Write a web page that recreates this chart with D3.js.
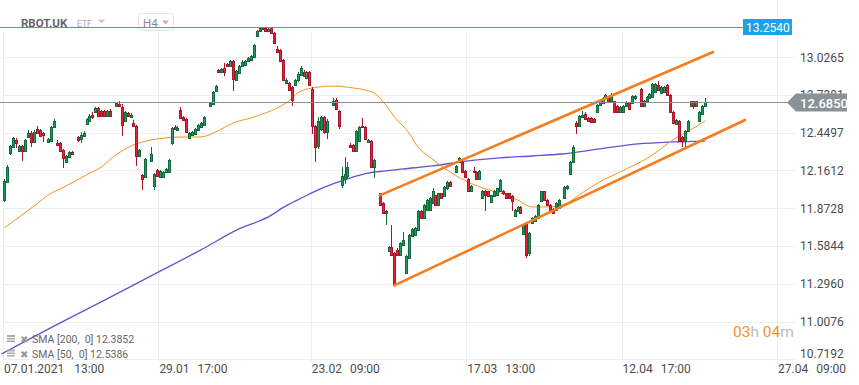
<!DOCTYPE html>
<html>
<head>
<meta charset="utf-8">
<script src="https://cdnjs.cloudflare.com/ajax/libs/d3/7.8.5/d3.min.js"></script>
<style>
  body { margin: 0; background: #fff; }
  svg { font-family: Roboto, "Noto Sans", sans-serif; display: block; }
  text { white-space: pre; }
</style>
</head>
<body>
<svg id="chart" width="859" height="385"></svg>
<script>
// H4 candles, [open, high, low, close]; null = empty slot
const candles = [
  [11.932,12.098,11.917,12.083],[12.075,12.204,12.068,12.189],[12.294,12.355,12.279,12.347],[12.340,12.415,12.332,12.408],[12.392,12.408,12.332,12.370], //0-4
  [12.309,12.355,12.302,12.347],[12.347,12.355,12.234,12.309],[12.309,12.400,12.302,12.392],[12.415,12.468,12.408,12.445],[12.445,12.460,12.340,12.377], //5-9
  [12.377,12.468,12.370,12.453],[12.476,12.498,12.438,12.445],[12.468,12.476,12.415,12.423],[12.445,12.453,12.377,12.430],null, //10-14
  [12.377,12.408,12.370,12.400],[12.385,12.498,12.377,12.491],[12.491,12.551,12.483,12.536],[12.370,12.392,12.347,12.355],[12.370,12.377,12.302,12.309], //15-19
  [12.317,12.325,12.181,12.257],[12.226,12.279,12.219,12.272],[12.264,12.309,12.257,12.302],[12.302,12.309,12.279,12.287],null, //20-24
  [12.415,12.423,12.377,12.392],[12.400,12.453,12.370,12.430],[12.423,12.460,12.415,12.445],[12.513,12.559,12.506,12.551],[12.536,12.589,12.528,12.574], //25-29
  [12.581,12.604,12.551,12.566],[12.604,12.642,12.596,12.634],[12.634,12.642,12.566,12.574],[12.611,12.619,12.566,12.574],[12.611,12.619,12.566,12.574], //30-34
  [12.574,12.619,12.566,12.611],[12.611,12.627,12.566,12.574],null,[12.649,12.679,12.642,12.672],[12.664,12.687,12.642,12.649], //35-39
  [12.642,12.664,12.423,12.506],[12.536,12.611,12.528,12.604],[12.596,12.604,12.566,12.574],[12.566,12.596,12.559,12.581],[12.521,12.543,12.491,12.498], //40-44
  [12.498,12.506,12.196,12.272],[12.272,12.325,12.264,12.317],[12.128,12.136,12.015,12.098],[12.113,12.257,12.106,12.249],null, //45-49
  [12.234,12.340,12.226,12.287],[12.045,12.143,12.015,12.136],[12.166,12.174,12.113,12.121],[12.113,12.166,12.106,12.158],[12.113,12.158,12.106,12.151], //50-54
  [12.151,12.181,12.143,12.174],[12.151,12.249,12.143,12.241],[12.370,12.491,12.355,12.483],[12.491,12.506,12.468,12.476],[12.468,12.498,12.460,12.483], //55-59
  [12.619,12.642,12.551,12.559],[12.566,12.574,12.536,12.543],[12.551,12.559,12.445,12.453],[12.408,12.453,12.400,12.445],[12.430,12.460,12.423,12.453], //60-64
  [12.438,12.483,12.430,12.476],[12.468,12.513,12.460,12.506],[12.491,12.528,12.483,12.521],[12.506,12.574,12.498,12.566],null, //65-69
  [12.649,12.679,12.642,12.672],[12.664,12.770,12.657,12.762],[12.770,12.815,12.762,12.808],[12.929,12.936,12.906,12.913],[12.913,12.944,12.906,12.936], //70-74
  [12.944,12.981,12.883,12.913],[12.974,12.981,12.951,12.959],[12.959,13.004,12.951,12.996],[12.996,13.004,12.770,12.861],[12.853,12.929,12.845,12.921], //75-79
  [12.906,12.966,12.898,12.959],[12.959,13.004,12.951,12.989],[12.966,13.004,12.959,12.996],[12.996,13.027,12.989,13.019],[13.004,13.042,12.996,13.034], //80-84
  [13.027,13.125,13.019,13.117],[13.185,13.231,13.178,13.223],[13.223,13.254,13.215,13.246],[13.238,13.254,13.230,13.250],[13.250,13.254,13.215,13.223], //85-89
  [13.223,13.246,13.215,13.238],[13.246,13.250,13.200,13.208],[13.208,13.215,13.125,13.132],[13.087,13.110,13.057,13.064],[13.080,13.087,12.989,12.996], //90-94
  [13.004,13.012,12.845,12.853],[12.830,12.868,12.823,12.853],[12.830,12.838,12.770,12.778],[12.800,12.808,12.649,12.702],[12.815,12.861,12.808,12.853], //95-99
  [12.853,12.913,12.838,12.898],[12.891,12.959,12.883,12.944],[12.913,12.929,12.876,12.883],[12.868,12.921,12.861,12.913],[12.913,12.921,12.808,12.815], //100-104
  [12.785,12.800,12.438,12.498],[12.498,12.506,12.226,12.340],[12.347,12.566,12.325,12.536],[12.476,12.574,12.460,12.566],[12.566,12.574,12.438,12.453], //105-109
  [12.453,12.551,12.400,12.536],null,[12.657,12.717,12.649,12.687],[12.702,12.710,12.619,12.627],[12.611,12.619,12.476,12.498], //110-114
  [12.053,12.189,12.030,12.121],[12.098,12.264,12.060,12.136],[12.121,12.226,12.098,12.189],[12.355,12.370,12.332,12.340],[12.355,12.362,12.302,12.309], //115-119
  [12.309,12.468,12.302,12.460],[12.385,12.498,12.377,12.491],[12.498,12.559,12.483,12.491],[12.491,12.498,12.392,12.400],[12.377,12.400,12.370,12.392], //120-124
  [12.385,12.392,12.181,12.189],[12.189,12.249,12.106,12.241],null,[11.985,11.992,11.887,11.894],[11.909,11.917,11.826,11.834], //125-129
  [11.834,11.856,11.743,11.849],[11.547,11.585,11.539,11.577],[11.577,11.743,11.509,11.517],[11.532,11.539,11.283,11.290],[11.554,11.570,11.509,11.517], //130-134
  [11.517,11.615,11.509,11.607],[11.592,11.690,11.585,11.630],[11.381,11.517,11.373,11.509],[11.494,11.675,11.486,11.668],[11.660,11.721,11.653,11.713], //135-139
  [11.668,11.728,11.660,11.721],[11.705,11.856,11.698,11.849],[11.849,11.856,11.788,11.796],[11.796,11.902,11.788,11.894],[11.856,11.939,11.849,11.932], //140-144
  [11.856,11.955,11.849,11.947],[11.909,12.023,11.902,12.007],[11.970,11.977,11.887,11.894],[11.894,11.992,11.887,11.985],[11.985,11.992,11.939,11.947], //145-149
  [11.962,12.045,11.955,12.038],[12.023,12.083,12.015,12.075],[12.075,12.083,12.038,12.045],null,[12.151,12.204,12.143,12.196], //150-154
  [12.226,12.264,12.219,12.257],[12.226,12.249,12.143,12.151],[12.158,12.166,12.106,12.113],[12.098,12.106,12.000,12.007],[12.007,12.053,12.000,12.045], //155-159
  [12.158,12.189,12.143,12.151],[12.151,12.158,12.090,12.098],[12.098,12.166,12.090,12.158],[11.947,12.015,11.939,12.007],[12.007,12.015,11.849,11.970], //160-164
  [12.000,12.007,11.955,11.962],[11.917,11.977,11.909,11.970],[11.962,12.015,11.955,12.007],[11.970,12.030,11.962,12.023],[12.007,12.098,12.000,12.090], //165-169
  [12.007,12.015,11.977,11.985],[11.985,11.992,11.939,11.947],[11.985,11.992,11.939,11.947],[11.962,11.970,11.849,11.924],[11.811,11.864,11.804,11.856], //170-174
  [11.849,11.887,11.841,11.879],[11.879,11.887,11.826,11.834],[11.675,11.751,11.668,11.743],[11.751,11.766,11.494,11.517],[11.532,11.690,11.509,11.683], //175-179
  [11.758,11.804,11.751,11.796],[11.773,11.819,11.766,11.811],[11.796,11.902,11.788,11.894],[11.924,12.007,11.917,12.000],[12.000,12.007,11.924,11.932], //180-184
  [11.932,11.939,11.887,11.894],[11.894,11.902,11.849,11.856],[11.864,11.872,11.826,11.834],[11.856,11.917,11.849,11.909],[11.872,11.939,11.864,11.932], //185-189
  null,[11.947,12.045,11.939,12.038],[12.023,12.053,12.015,12.045],[12.136,12.234,12.128,12.226],[12.226,12.355,12.219,12.340], //190-194
  [12.521,12.536,12.438,12.498],[12.498,12.581,12.491,12.574],[12.566,12.611,12.559,12.581],[12.589,12.604,12.543,12.551],[12.559,12.566,12.528,12.536], //195-199
  [12.559,12.566,12.521,12.528],[12.551,12.559,12.521,12.528],[12.604,12.664,12.596,12.657],[12.657,12.702,12.649,12.687],[12.679,12.725,12.672,12.717], //200-204
  [12.717,12.747,12.710,12.740],[12.725,12.732,12.679,12.687],[12.687,12.755,12.679,12.740],[12.687,12.694,12.596,12.604],[12.649,12.657,12.596,12.604], //205-209
  [12.604,12.649,12.596,12.642],[12.604,12.657,12.596,12.649],[12.649,12.687,12.642,12.679],[12.672,12.679,12.619,12.627],[12.679,12.740,12.672,12.732], //210-214
  [12.710,12.740,12.702,12.732],null,[12.785,12.793,12.642,12.649],[12.649,12.702,12.642,12.694],[12.694,12.732,12.687,12.725], //215-219
  [12.717,12.755,12.710,12.747],[12.725,12.830,12.717,12.823],[12.762,12.830,12.755,12.823],[12.815,12.845,12.770,12.778],[12.755,12.808,12.747,12.800], //220-224
  [12.762,12.808,12.755,12.800],[12.815,12.823,12.732,12.740],[12.740,12.747,12.596,12.604],[12.604,12.611,12.513,12.521],[12.513,12.551,12.506,12.543], //225-229
  [12.536,12.543,12.377,12.385],[12.415,12.423,12.340,12.385],[12.385,12.468,12.325,12.460],[12.460,12.543,12.453,12.536],[12.649,12.694,12.642,12.687], //230-234
  [12.687,12.694,12.627,12.649],[12.649,12.694,12.642,12.687],[12.536,12.611,12.528,12.604],[12.589,12.657,12.581,12.649],[12.649,12.717,12.642,12.685]  //235-239
];

// moving averages, [bar index, value]
const sma200 = [[-1,10.760],[21,11.020],[33,11.157],[50,11.356],[67,11.554],[80,11.714],[90,11.806],[96,11.890],[102,11.958],[107,12.012],
  [113,12.065],[119,12.111],[124,12.141],[130,12.157],[136,12.172],[146,12.195],[158,12.233],[169,12.256],[180,12.271],[190,12.286],
  [203,12.325],[216,12.363],[228,12.378],[239,12.385]];
const sma50 = [[0,11.722],[11,11.905],[15,11.974],[21,12.042],[28,12.126],[33,12.187],[38,12.279],[44,12.355],[50,12.393],[55,12.409],
  [61,12.416],[67,12.416],[72,12.454],[78,12.523],[84,12.561],[89,12.599],[97,12.691],[100,12.752],[105,12.790],[112,12.805],
  [119,12.790],[123,12.775],[127,12.737],[130,12.660],[133,12.569],[138,12.447],[141,12.340],[145,12.264],[152,12.149],[158,12.073],
  [163,12.027],[169,11.989],[175,11.935],[180,11.882],[186,11.882],[192,11.913],[197,11.989],[203,12.073],[210,12.149],[220,12.264],
  [229,12.409],[234,12.470],[239,12.539]];

// trend channel drawn by the user
const channelUpper = [[128, 11.970], [241.7, 13.065]];
const channelLower = [[133, 11.283], [252.6, 12.546]];

const yTicks = [10.7192, 11.0076, 11.2960, 11.5844, 11.8728, 12.1612, 12.4497, 12.7381, 13.0265];
const xTickIdx = [0, 53, 105, 158, 211, 264];
const xTickLabels = ['07.01.2021 13:00', '29.01 17:00', '23.02 09:00', '17.03 13:00', '12.04 17:00', '27.04 09:00'];

const lastPrice = 12.6850;
const highPrice = 13.2540;
const legend = [{name: 'SMA [200,  0]', value: 12.3852}, {name: 'SMA [50,  0]', value: 12.5386}];

const upFill = '#1f9c5c', upLine = '#0f6a3c';
const downFill = '#e5283c', downLine = '#a8142a';

const svg = d3.select('#chart');
const x = d3.scaleLinear().domain([0, 264]).range([3, 777]);
const y = d3.scaleLinear().domain([10.7192, 13.0265]).range([359.3, 57]);
const cx = i => Math.round(x(i + 0.5));
const crisp = v => Math.round(v) + 0.5;

/* grid */
const grid = svg.append('g');
grid.selectAll('line.h')
  .data(yTicks)
  .join('line')
    .attr('x1', 3).attr('x2', 797)
    .attr('y1', d => crisp(y(d))).attr('y2', d => crisp(y(d)))
    .attr('stroke', '#eeeeee');
grid.selectAll('line.v')
  .data(xTickIdx)
  .join('line')
    .attr('x1', d => crisp(x(d))).attr('x2', d => crisp(x(d)))
    .attr('y1', (d, i) => i === xTickIdx.length - 1 ? 0 : 32).attr('y2', 362)
    .attr('stroke', '#eeeeee');

/* axes labels */
svg.append('g')
  .selectAll('text')
  .data(yTicks)
  .join('text')
    .attr('x', 800)
    .attr('y', d => Math.min(y(d), 353) + 4.5)
    .attr('font-size', 12)
    .attr('fill', '#4d4d4d')
    .text(d => d.toFixed(4));

const xl = svg.append('g')
  .selectAll('text')
  .data(xTickIdx)
  .join('text')
    .attr('x', d => x(d) + 1)
    .attr('y', 373)
    .attr('font-size', 12)
    .attr('fill', '#4d4d4d');
xl.append('tspan').text((d, i) => xTickLabels[i].split(' ')[0]);
xl.append('tspan').attr('dx', (d, i) => i === 0 ? 10 : 8).text((d, i) => xTickLabels[i].split(' ')[1]);

/* moving averages */
const line = d3.line()
  .x(d => x(d[0] + 0.5))
  .y(d => y(d[1]))
  .curve(d3.curveMonotoneX);

svg.append('path')
  .attr('d', line(sma200))
  .attr('fill', 'none')
  .attr('stroke', '#6a50cf')
  .attr('stroke-width', 1.3);

svg.append('path')
  .attr('d', line(sma50))
  .attr('fill', 'none')
  .attr('stroke', '#f7931e')
  .attr('stroke-width', 1);

/* candles */
const bars = candles
  .map((d, i) => d && {i, o: d[0], h: d[1], l: d[2], c: d[3]})
  .filter(d => d);

const cg = svg.append('g');
cg.selectAll('line')
  .data(bars)
  .join('line')
    .attr('x1', d => cx(d.i) + 0.5).attr('x2', d => cx(d.i) + 0.5)
    .attr('y1', d => Math.round(y(d.h))).attr('y2', d => Math.round(y(d.l)))
    .attr('stroke', d => d.c >= d.o ? upLine : downLine);

cg.selectAll('rect')
  .data(bars)
  .join('rect')
    .attr('x', d => cx(d.i) - 0.5)
    .attr('width', 2)
    .attr('y', d => crisp(y(Math.max(d.o, d.c))))
    .attr('height', d => Math.max(1, Math.round(y(Math.min(d.o, d.c))) - Math.round(y(Math.max(d.o, d.c)))))
    .attr('fill', d => d.c >= d.o ? upFill : downFill)
    .attr('stroke', d => d.c >= d.o ? upLine : downLine)
    .attr('stroke-width', 1);

/* channel */
svg.selectAll('path.channel')
  .data([channelUpper, channelLower])
  .join('path')
    .attr('class', 'channel')
    .attr('d', d3.line().x(d => x(d[0] + 0.5)).y(d => y(d[1])))
    .attr('fill', 'none')
    .attr('stroke', '#f57d1f')
    .attr('stroke-width', 2.6)
    .attr('stroke-linecap', 'round');

/* header */
svg.append('text').attr('x', 21).attr('y', 27)
  .attr('font-size', 11.5).attr('font-weight', 'bold').attr('fill', '#666')
  .text('RBOT.UK');
svg.append('text').attr('x', 77).attr('y', 27)
  .attr('font-size', 8.5).attr('fill', '#aaa')
  .text('ETF');
svg.append('path').attr('d', 'M98,19.5 L105,19.5 L101.5,23.5 Z').attr('fill', '#c8c8c8');
svg.append('rect').attr('x', 138.5).attr('y', 13.5).attr('width', 35).attr('height', 17).attr('rx', 3)
  .attr('fill', '#fff').attr('stroke', '#e4e4e4');
svg.append('text').attr('x', 143).attr('y', 26.5)
  .attr('font-size', 11.5).attr('fill', '#888')
  .text('H4');
svg.append('path').attr('d', 'M162,20.5 L169,20.5 L165.5,24.5 Z').attr('fill', '#b8b8b8');

/* high level */
const yHigh = crisp(y(highPrice));
svg.append('line').attr('x1', 0).attr('x2', 744).attr('y1', yHigh).attr('y2', yHigh)
  .attr('stroke', '#27a6e3').attr('stroke-width', 1);
svg.append('rect').attr('x', 743).attr('y', yHigh - 8.5).attr('width', 49).attr('height', 16)
  .attr('fill', '#1aa3e9');
svg.append('text').attr('x', 746).attr('y', yHigh + 4)
  .attr('font-size', 12).attr('fill', '#fff')
  .text(highPrice.toFixed(4));

/* last price */
const yLast = crisp(y(lastPrice));
svg.append('line').attr('x1', 0).attr('x2', 790).attr('y1', yLast).attr('y2', yLast)
  .attr('stroke', '#8a9195').attr('stroke-width', 1);
svg.append('path')
  .attr('d', `M787,${yLast} L796,${yLast - 9} L847,${yLast - 9} L847,${yLast + 9} L796,${yLast + 9} Z`)
  .attr('fill', '#899296');
svg.append('text').attr('x', 800).attr('y', yLast + 5)
  .attr('font-size', 13).attr('font-weight', 500).attr('fill', '#fff')
  .text(lastPrice.toFixed(4));

/* countdown */
const cd = svg.append('text').attr('x', 733).attr('y', 337).attr('font-size', 15.5);
[['03', '#f7931e'], ['h ', '#bdbdbd'], ['04', '#f7931e'], ['m', '#bdbdbd']]
  .forEach(([t, c]) => cd.append('tspan').attr('fill', c).text(t));

/* legend */
const lg = svg.append('g')
  .selectAll('g')
  .data(legend)
  .join('g')
    .attr('transform', (d, i) => `translate(0, ${343 + i * 14.5})`);
lg.append('rect').attr('x', 7).attr('y', -8).attr('width', 8).attr('height', 2).attr('fill', '#aaa');
lg.append('rect').attr('x', 7).attr('y', -5).attr('width', 8).attr('height', 1.5).attr('fill', '#aaa');
lg.append('rect').attr('x', 7).attr('y', -2.5).attr('width', 8).attr('height', 1.5).attr('fill', '#aaa');
lg.append('text').attr('x', 19.5).attr('y', 0).attr('font-size', 9.5).attr('fill', '#9a9a9a').text('✖');
lg.append('text').attr('x', 32).attr('y', 0)
  .attr('font-size', 10.5).attr('fill', '#666')
  .text(d => `${d.name} ${d.value.toFixed(4)}`);
</script>
</body>
</html>
